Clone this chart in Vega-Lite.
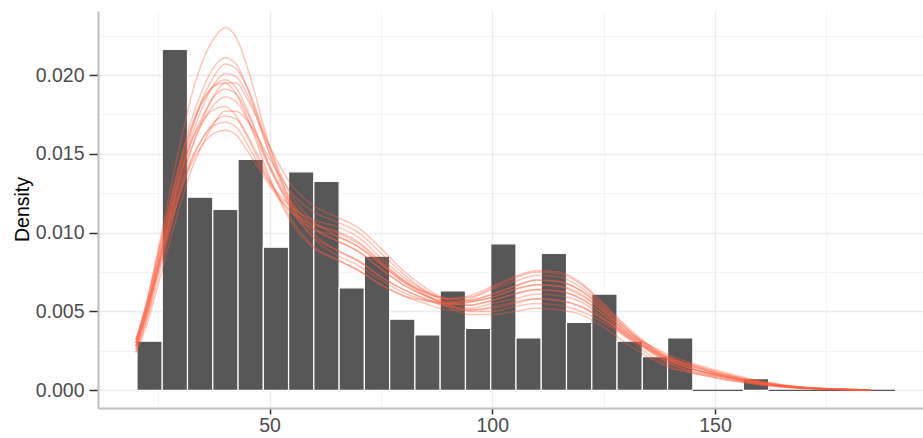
{
"$schema": "https://vega.github.io/schema/vega-lite/v6.json",
"width": 825, "height": 397,
"autosize": {"type": "none"},
"padding": {"left": 98, "top": 11, "right": 0, "bottom": 30},
"background": "white",
"config": {"view": {"stroke": null}, "font": "Liberation Sans"},
"datasets": {
"bars": [
{"x":20.25,"x2":25.92,"density":0.00311},{"x":25.92,"x2":31.59,"density":0.02163},{"x":31.59,"x2":37.27,"density":0.01225},{"x":37.27,"x2":42.94,"density":0.01147},{"x":42.94,"x2":48.61,"density":0.01465},{"x":48.61,"x2":54.28,"density":0.00908},{"x":54.28,"x2":59.95,"density":0.01386},{"x":59.95,"x2":65.63,"density":0.01325},{"x":65.63,"x2":71.30,"density":0.0065},{"x":71.30,"x2":76.97,"density":0.00851},{"x":76.97,"x2":82.64,"density":0.00451},{"x":82.64,"x2":88.31,"density":0.00351},{"x":88.31,"x2":93.99,"density":0.0063},{"x":93.99,"x2":99.66,"density":0.00392},{"x":99.66,"x2":105.33,"density":0.00929},{"x":105.33,"x2":111.0,"density":0.00332},{"x":111.0,"x2":116.67,"density":0.00868},{"x":116.67,"x2":122.35,"density":0.0043},{"x":122.35,"x2":128.02,"density":0.0061},{"x":128.02,"x2":133.69,"density":0.00311},{"x":133.69,"x2":139.36,"density":0.00214},{"x":139.36,"x2":145.03,"density":0.00332},{"x":145.03,"x2":150.71,"density":0},{"x":150.71,"x2":156.38,"density":0},{"x":156.38,"x2":162.05,"density":0.00074},{"x":162.05,"x2":167.72,"density":0},{"x":167.72,"x2":173.39,"density":0},{"x":173.39,"x2":179.07,"density":0},{"x":179.07,"x2":184.74,"density":0},{"x":184.74,"x2":190.41,"density":0}
],
"curves": [
{"d":1,"x":20,"density":0.0028},{"d":1,"x":22.5,"density":0.005},{"d":1,"x":25,"density":0.0078},{"d":1,"x":27.5,"density":0.0106},{"d":1,"x":30,"density":0.0132},{"d":1,"x":32.5,"density":0.0154},{"d":1,"x":35,"density":0.017},{"d":1,"x":37.5,"density":0.0181},{"d":1,"x":40,"density":0.0186},{"d":1,"x":42.5,"density":0.0183},{"d":1,"x":45,"density":0.0172},{"d":1,"x":50,"density":0.0141},{"d":1,"x":55,"density":0.0116},{"d":1,"x":60,"density":0.0102},{"d":1,"x":65,"density":0.0095},{"d":1,"x":70,"density":0.0088},{"d":1,"x":75,"density":0.0077},{"d":1,"x":80,"density":0.0067},{"d":1,"x":85,"density":0.006},{"d":1,"x":90,"density":0.0055},{"d":1,"x":95,"density":0.0054},{"d":1,"x":100,"density":0.0057},{"d":1,"x":105,"density":0.0061},{"d":1,"x":110,"density":0.0064},{"d":1,"x":115,"density":0.0063},{"d":1,"x":120,"density":0.0058},{"d":1,"x":125,"density":0.0048},{"d":1,"x":130,"density":0.0036},{"d":1,"x":135,"density":0.0026},{"d":1,"x":140,"density":0.0018},{"d":1,"x":145,"density":0.00135},{"d":1,"x":150,"density":0.001},{"d":1,"x":155,"density":0.0007},{"d":1,"x":160,"density":0.00045},{"d":1,"x":170,"density":0.00015},{"d":1,"x":185,"density":0.00002},
{"d":2,"x":20,"density":0.0032},{"d":2,"x":22.5,"density":0.0057},{"d":2,"x":25,"density":0.0089},{"d":2,"x":27.5,"density":0.0124},{"d":2,"x":30,"density":0.0157},{"d":2,"x":32.5,"density":0.0187},{"d":2,"x":35,"density":0.0209},{"d":2,"x":37.5,"density":0.0223},{"d":2,"x":40,"density":0.023},{"d":2,"x":42.5,"density":0.0224},{"d":2,"x":45,"density":0.0205},{"d":2,"x":50,"density":0.0155},{"d":2,"x":55,"density":0.0118},{"d":2,"x":60,"density":0.0099},{"d":2,"x":65,"density":0.0089},{"d":2,"x":70,"density":0.0082},{"d":2,"x":75,"density":0.0072},{"d":2,"x":80,"density":0.0064},{"d":2,"x":85,"density":0.0058},{"d":2,"x":90,"density":0.0055},{"d":2,"x":95,"density":0.0056},{"d":2,"x":100,"density":0.0059},{"d":2,"x":105,"density":0.0064},{"d":2,"x":110,"density":0.0067},{"d":2,"x":115,"density":0.0066},{"d":2,"x":120,"density":0.0061},{"d":2,"x":125,"density":0.005},{"d":2,"x":130,"density":0.0037},{"d":2,"x":135,"density":0.0027},{"d":2,"x":140,"density":0.0018},{"d":2,"x":145,"density":0.00135},{"d":2,"x":150,"density":0.001},{"d":2,"x":155,"density":0.0007},{"d":2,"x":160,"density":0.00045},{"d":2,"x":170,"density":0.00015},{"d":2,"x":185,"density":0.00002},
{"d":3,"x":20,"density":0.003},{"d":3,"x":22.5,"density":0.0052},{"d":3,"x":25,"density":0.008},{"d":3,"x":27.5,"density":0.0109},{"d":3,"x":30,"density":0.0139},{"d":3,"x":32.5,"density":0.0165},{"d":3,"x":35,"density":0.0185},{"d":3,"x":37.5,"density":0.0199},{"d":3,"x":40,"density":0.0207},{"d":3,"x":42.5,"density":0.0204},{"d":3,"x":45,"density":0.0192},{"d":3,"x":50,"density":0.0154},{"d":3,"x":55,"density":0.0123},{"d":3,"x":60,"density":0.0107},{"d":3,"x":65,"density":0.0098},{"d":3,"x":70,"density":0.0091},{"d":3,"x":75,"density":0.008},{"d":3,"x":80,"density":0.0069},{"d":3,"x":85,"density":0.006},{"d":3,"x":90,"density":0.0054},{"d":3,"x":95,"density":0.0051},{"d":3,"x":100,"density":0.0053},{"d":3,"x":105,"density":0.0056},{"d":3,"x":110,"density":0.0058},{"d":3,"x":115,"density":0.0057},{"d":3,"x":120,"density":0.0053},{"d":3,"x":125,"density":0.0045},{"d":3,"x":130,"density":0.0035},{"d":3,"x":135,"density":0.0026},{"d":3,"x":140,"density":0.0019},{"d":3,"x":145,"density":0.0015},{"d":3,"x":150,"density":0.0011},{"d":3,"x":155,"density":0.0008},{"d":3,"x":160,"density":0.0005},{"d":3,"x":170,"density":0.00017},{"d":3,"x":185,"density":0.00002},
{"d":4,"x":20,"density":0.0026},{"d":4,"x":22.5,"density":0.0049},{"d":4,"x":25,"density":0.0077},{"d":4,"x":27.5,"density":0.0105},{"d":4,"x":30,"density":0.0128},{"d":4,"x":32.5,"density":0.0147},{"d":4,"x":35,"density":0.016},{"d":4,"x":37.5,"density":0.0168},{"d":4,"x":40,"density":0.017},{"d":4,"x":42.5,"density":0.0167},{"d":4,"x":45,"density":0.0156},{"d":4,"x":50,"density":0.0132},{"d":4,"x":55,"density":0.0116},{"d":4,"x":60,"density":0.0108},{"d":4,"x":65,"density":0.0104},{"d":4,"x":70,"density":0.0097},{"d":4,"x":75,"density":0.0084},{"d":4,"x":80,"density":0.0072},{"d":4,"x":85,"density":0.0063},{"d":4,"x":90,"density":0.0058},{"d":4,"x":95,"density":0.0057},{"d":4,"x":100,"density":0.0061},{"d":4,"x":105,"density":0.0066},{"d":4,"x":110,"density":0.007},{"d":4,"x":115,"density":0.0069},{"d":4,"x":120,"density":0.0063},{"d":4,"x":125,"density":0.0051},{"d":4,"x":130,"density":0.0037},{"d":4,"x":135,"density":0.0026},{"d":4,"x":140,"density":0.0017},{"d":4,"x":145,"density":0.0012},{"d":4,"x":150,"density":0.0009},{"d":4,"x":155,"density":0.00063},{"d":4,"x":160,"density":0.0004},{"d":4,"x":170,"density":0.00014},{"d":4,"x":185,"density":0.00002},
{"d":5,"x":20,"density":0.003},{"d":5,"x":22.5,"density":0.0056},{"d":5,"x":25,"density":0.0087},{"d":5,"x":27.5,"density":0.0118},{"d":5,"x":30,"density":0.0146},{"d":5,"x":32.5,"density":0.0168},{"d":5,"x":35,"density":0.0184},{"d":5,"x":37.5,"density":0.0193},{"d":5,"x":40,"density":0.0195},{"d":5,"x":42.5,"density":0.0188},{"d":5,"x":45,"density":0.0173},{"d":5,"x":50,"density":0.0135},{"d":5,"x":55,"density":0.0106},{"d":5,"x":60,"density":0.009},{"d":5,"x":65,"density":0.0083},{"d":5,"x":70,"density":0.0076},{"d":5,"x":75,"density":0.0067},{"d":5,"x":80,"density":0.006},{"d":5,"x":85,"density":0.0057},{"d":5,"x":90,"density":0.0055},{"d":5,"x":95,"density":0.0058},{"d":5,"x":100,"density":0.0064},{"d":5,"x":105,"density":0.0069},{"d":5,"x":110,"density":0.0073},{"d":5,"x":115,"density":0.0072},{"d":5,"x":120,"density":0.0065},{"d":5,"x":125,"density":0.0053},{"d":5,"x":130,"density":0.0039},{"d":5,"x":135,"density":0.0027},{"d":5,"x":140,"density":0.0019},{"d":5,"x":145,"density":0.00135},{"d":5,"x":150,"density":0.001},{"d":5,"x":155,"density":0.0007},{"d":5,"x":160,"density":0.00045},{"d":5,"x":170,"density":0.00015},{"d":5,"x":185,"density":0.00002},
{"d":6,"x":20,"density":0.0024},{"d":6,"x":22.5,"density":0.0042},{"d":6,"x":25,"density":0.0067},{"d":6,"x":27.5,"density":0.0093},{"d":6,"x":30,"density":0.0118},{"d":6,"x":32.5,"density":0.014},{"d":6,"x":35,"density":0.0156},{"d":6,"x":37.5,"density":0.0169},{"d":6,"x":40,"density":0.0177},{"d":6,"x":42.5,"density":0.0177},{"d":6,"x":45,"density":0.0171},{"d":6,"x":50,"density":0.0147},{"d":6,"x":55,"density":0.0125},{"d":6,"x":60,"density":0.0113},{"d":6,"x":65,"density":0.0107},{"d":6,"x":70,"density":0.01},{"d":6,"x":75,"density":0.0087},{"d":6,"x":80,"density":0.0074},{"d":6,"x":85,"density":0.0063},{"d":6,"x":90,"density":0.0055},{"d":6,"x":95,"density":0.005},{"d":6,"x":100,"density":0.005},{"d":6,"x":105,"density":0.0053},{"d":6,"x":110,"density":0.0055},{"d":6,"x":115,"density":0.0054},{"d":6,"x":120,"density":0.005},{"d":6,"x":125,"density":0.0043},{"d":6,"x":130,"density":0.0034},{"d":6,"x":135,"density":0.0027},{"d":6,"x":140,"density":0.002},{"d":6,"x":145,"density":0.0016},{"d":6,"x":150,"density":0.0012},{"d":6,"x":155,"density":0.00085},{"d":6,"x":160,"density":0.00055},{"d":6,"x":170,"density":0.00018},{"d":6,"x":185,"density":0.00002},
{"d":7,"x":20,"density":0.0028},{"d":7,"x":22.5,"density":0.005},{"d":7,"x":25,"density":0.0079},{"d":7,"x":27.5,"density":0.0108},{"d":7,"x":30,"density":0.0135},{"d":7,"x":32.5,"density":0.0158},{"d":7,"x":35,"density":0.0174},{"d":7,"x":37.5,"density":0.0186},{"d":7,"x":40,"density":0.0191},{"d":7,"x":42.5,"density":0.0188},{"d":7,"x":45,"density":0.0176},{"d":7,"x":50,"density":0.0142},{"d":7,"x":55,"density":0.0114},{"d":7,"x":60,"density":0.0097},{"d":7,"x":65,"density":0.0089},{"d":7,"x":70,"density":0.0082},{"d":7,"x":75,"density":0.0072},{"d":7,"x":80,"density":0.0064},{"d":7,"x":85,"density":0.0058},{"d":7,"x":90,"density":0.0053},{"d":7,"x":95,"density":0.0052},{"d":7,"x":100,"density":0.0055},{"d":7,"x":105,"density":0.0058},{"d":7,"x":110,"density":0.0061},{"d":7,"x":115,"density":0.006},{"d":7,"x":120,"density":0.0056},{"d":7,"x":125,"density":0.0046},{"d":7,"x":130,"density":0.0034},{"d":7,"x":135,"density":0.0023},{"d":7,"x":140,"density":0.0015},{"d":7,"x":145,"density":0.0011},{"d":7,"x":150,"density":0.0008},{"d":7,"x":155,"density":0.00055},{"d":7,"x":160,"density":0.00035},{"d":7,"x":170,"density":0.00012},{"d":7,"x":185,"density":0.00002},
{"d":8,"x":20,"density":0.0024},{"d":8,"x":22.5,"density":0.0046},{"d":8,"x":25,"density":0.0075},{"d":8,"x":27.5,"density":0.0102},{"d":8,"x":30,"density":0.0125},{"d":8,"x":32.5,"density":0.0144},{"d":8,"x":35,"density":0.0156},{"d":8,"x":37.5,"density":0.0163},{"d":8,"x":40,"density":0.0165},{"d":8,"x":42.5,"density":0.0162},{"d":8,"x":45,"density":0.0152},{"d":8,"x":50,"density":0.013},{"d":8,"x":55,"density":0.0112},{"d":8,"x":60,"density":0.0102},{"d":8,"x":65,"density":0.0098},{"d":8,"x":70,"density":0.0091},{"d":8,"x":75,"density":0.008},{"d":8,"x":80,"density":0.0069},{"d":8,"x":85,"density":0.0062},{"d":8,"x":90,"density":0.0058},{"d":8,"x":95,"density":0.006},{"d":8,"x":100,"density":0.0066},{"d":8,"x":105,"density":0.0072},{"d":8,"x":110,"density":0.0076},{"d":8,"x":115,"density":0.0075},{"d":8,"x":120,"density":0.0068},{"d":8,"x":125,"density":0.0055},{"d":8,"x":130,"density":0.0041},{"d":8,"x":135,"density":0.0029},{"d":8,"x":140,"density":0.002},{"d":8,"x":145,"density":0.0015},{"d":8,"x":150,"density":0.0011},{"d":8,"x":155,"density":0.00078},{"d":8,"x":160,"density":0.0005},{"d":8,"x":170,"density":0.00017},{"d":8,"x":185,"density":0.00002},
{"d":9,"x":20,"density":0.0032},{"d":9,"x":22.5,"density":0.0053},{"d":9,"x":25,"density":0.008},{"d":9,"x":27.5,"density":0.0108},{"d":9,"x":30,"density":0.0136},{"d":9,"x":32.5,"density":0.0161},{"d":9,"x":35,"density":0.018},{"d":9,"x":37.5,"density":0.0194},{"d":9,"x":40,"density":0.0201},{"d":9,"x":42.5,"density":0.0199},{"d":9,"x":45,"density":0.0188},{"d":9,"x":50,"density":0.015},{"d":9,"x":55,"density":0.0116},{"d":9,"x":60,"density":0.0096},{"d":9,"x":65,"density":0.0086},{"d":9,"x":70,"density":0.0079},{"d":9,"x":75,"density":0.007},{"d":9,"x":80,"density":0.0062},{"d":9,"x":85,"density":0.0057},{"d":9,"x":90,"density":0.0054},{"d":9,"x":95,"density":0.0056},{"d":9,"x":100,"density":0.0059},{"d":9,"x":105,"density":0.0064},{"d":9,"x":110,"density":0.0067},{"d":9,"x":115,"density":0.0066},{"d":9,"x":120,"density":0.006},{"d":9,"x":125,"density":0.005},{"d":9,"x":130,"density":0.0038},{"d":9,"x":135,"density":0.0029},{"d":9,"x":140,"density":0.0021},{"d":9,"x":145,"density":0.0016},{"d":9,"x":150,"density":0.0012},{"d":9,"x":155,"density":0.00085},{"d":9,"x":160,"density":0.00055},{"d":9,"x":170,"density":0.00018},{"d":9,"x":185,"density":0.00002},
{"d":10,"x":20,"density":0.0028},{"d":10,"x":22.5,"density":0.0053},{"d":10,"x":25,"density":0.0083},{"d":10,"x":27.5,"density":0.0112},{"d":10,"x":30,"density":0.0138},{"d":10,"x":32.5,"density":0.0158},{"d":10,"x":35,"density":0.0171},{"d":10,"x":37.5,"density":0.0178},{"d":10,"x":40,"density":0.018},{"d":10,"x":42.5,"density":0.0174},{"d":10,"x":45,"density":0.0161},{"d":10,"x":50,"density":0.0132},{"d":10,"x":55,"density":0.0113},{"d":10,"x":60,"density":0.0105},{"d":10,"x":65,"density":0.0101},{"d":10,"x":70,"density":0.0094},{"d":10,"x":75,"density":0.0082},{"d":10,"x":80,"density":0.007},{"d":10,"x":85,"density":0.0061},{"d":10,"x":90,"density":0.0053},{"d":10,"x":95,"density":0.0048},{"d":10,"x":100,"density":0.0048},{"d":10,"x":105,"density":0.005},{"d":10,"x":110,"density":0.0052},{"d":10,"x":115,"density":0.0051},{"d":10,"x":120,"density":0.0048},{"d":10,"x":125,"density":0.004},{"d":10,"x":130,"density":0.003},{"d":10,"x":135,"density":0.0021},{"d":10,"x":140,"density":0.0014},{"d":10,"x":145,"density":0.0011},{"d":10,"x":150,"density":0.0008},{"d":10,"x":155,"density":0.00055},{"d":10,"x":160,"density":0.00035},{"d":10,"x":170,"density":0.00012},{"d":10,"x":185,"density":0.00002},
{"d":11,"x":20,"density":0.003},{"d":11,"x":22.5,"density":0.0053},{"d":11,"x":25,"density":0.0083},{"d":11,"x":27.5,"density":0.0114},{"d":11,"x":30,"density":0.0145},{"d":11,"x":32.5,"density":0.0172},{"d":11,"x":35,"density":0.0191},{"d":11,"x":37.5,"density":0.0205},{"d":11,"x":40,"density":0.0211},{"d":11,"x":42.5,"density":0.0207},{"d":11,"x":45,"density":0.0192},{"d":11,"x":50,"density":0.0151},{"d":11,"x":55,"density":0.012},{"d":11,"x":60,"density":0.0103},{"d":11,"x":65,"density":0.0095},{"d":11,"x":70,"density":0.0088},{"d":11,"x":75,"density":0.0077},{"d":11,"x":80,"density":0.0067},{"d":11,"x":85,"density":0.006},{"d":11,"x":90,"density":0.0056},{"d":11,"x":95,"density":0.0057},{"d":11,"x":100,"density":0.0061},{"d":11,"x":105,"density":0.0066},{"d":11,"x":110,"density":0.007},{"d":11,"x":115,"density":0.0069},{"d":11,"x":120,"density":0.0063},{"d":11,"x":125,"density":0.0052},{"d":11,"x":130,"density":0.0039},{"d":11,"x":135,"density":0.0028},{"d":11,"x":140,"density":0.002},{"d":11,"x":145,"density":0.0015},{"d":11,"x":150,"density":0.0011},{"d":11,"x":155,"density":0.00078},{"d":11,"x":160,"density":0.0005},{"d":11,"x":170,"density":0.00017},{"d":11,"x":185,"density":0.00002},
{"d":12,"x":20,"density":0.0026},{"d":12,"x":22.5,"density":0.0045},{"d":12,"x":25,"density":0.0072},{"d":12,"x":27.5,"density":0.0099},{"d":12,"x":30,"density":0.0128},{"d":12,"x":32.5,"density":0.0153},{"d":12,"x":35,"density":0.0172},{"d":12,"x":37.5,"density":0.0187},{"d":12,"x":40,"density":0.0195},{"d":12,"x":42.5,"density":0.0195},{"d":12,"x":45,"density":0.0185},{"d":12,"x":50,"density":0.0155},{"d":12,"x":55,"density":0.013},{"d":12,"x":60,"density":0.0117},{"d":12,"x":65,"density":0.011},{"d":12,"x":70,"density":0.0103},{"d":12,"x":75,"density":0.009},{"d":12,"x":80,"density":0.0076},{"d":12,"x":85,"density":0.0065},{"d":12,"x":90,"density":0.0057},{"d":12,"x":95,"density":0.0054},{"d":12,"x":100,"density":0.0057},{"d":12,"x":105,"density":0.0061},{"d":12,"x":110,"density":0.0064},{"d":12,"x":115,"density":0.0063},{"d":12,"x":120,"density":0.0058},{"d":12,"x":125,"density":0.0048},{"d":12,"x":130,"density":0.0035},{"d":12,"x":135,"density":0.0025},{"d":12,"x":140,"density":0.00165},{"d":12,"x":145,"density":0.0012},{"d":12,"x":150,"density":0.0009},{"d":12,"x":155,"density":0.00063},{"d":12,"x":160,"density":0.0004},{"d":12,"x":170,"density":0.00014},{"d":12,"x":185,"density":0.00002},
{"d":13,"x":20,"density":0.0028},{"d":13,"x":22.5,"density":0.0049},{"d":13,"x":25,"density":0.0076},{"d":13,"x":27.5,"density":0.0102},{"d":13,"x":30,"density":0.0126},{"d":13,"x":32.5,"density":0.0146},{"d":13,"x":35,"density":0.016},{"d":13,"x":37.5,"density":0.017},{"d":13,"x":40,"density":0.0174},{"d":13,"x":42.5,"density":0.0172},{"d":13,"x":45,"density":0.0162},{"d":13,"x":50,"density":0.0134},{"d":13,"x":55,"density":0.0108},{"d":13,"x":60,"density":0.0091},{"d":13,"x":65,"density":0.0083},{"d":13,"x":70,"density":0.0076},{"d":13,"x":75,"density":0.0067},{"d":13,"x":80,"density":0.006},{"d":13,"x":85,"density":0.0055},{"d":13,"x":90,"density":0.0051},{"d":13,"x":95,"density":0.0051},{"d":13,"x":100,"density":0.0052},{"d":13,"x":105,"density":0.0055},{"d":13,"x":110,"density":0.0058},{"d":13,"x":115,"density":0.0057},{"d":13,"x":120,"density":0.0053},{"d":13,"x":125,"density":0.0045},{"d":13,"x":130,"density":0.0036},{"d":13,"x":135,"density":0.0029},{"d":13,"x":140,"density":0.0022},{"d":13,"x":145,"density":0.0017},{"d":13,"x":150,"density":0.0013},{"d":13,"x":155,"density":0.00093},{"d":13,"x":160,"density":0.0006},{"d":13,"x":170,"density":0.0002},{"d":13,"x":185,"density":0.00002},
{"d":14,"x":20,"density":0.0032},{"d":14,"x":22.5,"density":0.0056},{"d":14,"x":25,"density":0.0086},{"d":14,"x":27.5,"density":0.0116},{"d":14,"x":30,"density":0.0143},{"d":14,"x":32.5,"density":0.0166},{"d":14,"x":35,"density":0.0183},{"d":14,"x":37.5,"density":0.0193},{"d":14,"x":40,"density":0.0197},{"d":14,"x":42.5,"density":0.0192},{"d":14,"x":45,"density":0.0178},{"d":14,"x":50,"density":0.0143},{"d":14,"x":55,"density":0.0118},{"d":14,"x":60,"density":0.0106},{"d":14,"x":65,"density":0.01},{"d":14,"x":70,"density":0.0093},{"d":14,"x":75,"density":0.0081},{"d":14,"x":80,"density":0.007},{"d":14,"x":85,"density":0.0062},{"d":14,"x":90,"density":0.0058},{"d":14,"x":95,"density":0.0059},{"d":14,"x":100,"density":0.0065},{"d":14,"x":105,"density":0.0071},{"d":14,"x":110,"density":0.0075},{"d":14,"x":115,"density":0.0074},{"d":14,"x":120,"density":0.0067},{"d":14,"x":125,"density":0.0054},{"d":14,"x":130,"density":0.004},{"d":14,"x":135,"density":0.0028},{"d":14,"x":140,"density":0.0019},{"d":14,"x":145,"density":0.00135},{"d":14,"x":150,"density":0.001},{"d":14,"x":155,"density":0.0007},{"d":14,"x":160,"density":0.00045},{"d":14,"x":170,"density":0.00015},{"d":14,"x":185,"density":0.00002}
]
},
"layer": [
{
"data": {"name": "bars"},
"mark": {"type": "rect", "strokeWidth": 1.2},
"encoding": {
"x": {"field": "x", "type": "quantitative", "scale": {"domain": [11.5, 196.7], "nice": false, "zero": false},
"axis": {"values": [25, 50, 75, 100, 125, 150, 175], "title": null,
"labelExpr": "datum.value % 50 == 0 ? datum.label : ''",
"labelFont": "Liberation Sans", "labelFontSize": 19.5, "labelColor": "#4D4D4D", "labelPadding": 2, "labelOverlap": false, "labelFlush": false,
"tickSize": 6, "tickWidth": 1.5,
"tickColor": {"condition": {"test": "datum.value % 50 != 0", "value": "transparent"}, "value": "#333333"},
"domainColor": "#BEBEBE", "domainWidth": 2,
"grid": true,
"gridColor": {"condition": {"test": "datum.value % 50 != 0", "value": "#F3F3F3"}, "value": "#EBEBEB"},
"gridWidth": {"condition": {"test": "datum.value % 50 != 0", "value": 0.9}, "value": 1.4}}},
"x2": {"field": "x2"},
"y": {"field": "density", "type": "quantitative", "scale": {"domain": [-0.001124, 0.02406], "nice": false, "zero": false},
"axis": {"values": [0, 0.0025, 0.005, 0.0075, 0.01, 0.0125, 0.015, 0.0175, 0.02, 0.0225], "title": "Density", "format": ".3f",
"labelExpr": "round(datum.value*400) % 2 == 0 ? datum.label : ''",
"labelFont": "Liberation Sans", "labelFontSize": 19.5, "labelColor": "#4D4D4D", "labelPadding": 5, "labelOverlap": false, "labelFlush": false,
"tickSize": 9, "tickWidth": 1.5,
"tickColor": {"condition": {"test": "round(datum.value*400) % 2 == 1", "value": "transparent"}, "value": "#333333"},
"domainColor": "#BEBEBE", "domainWidth": 2,
"grid": true,
"gridColor": {"condition": {"test": "round(datum.value*400) % 2 == 1", "value": "#F3F3F3"}, "value": "#EBEBEB"},
"gridWidth": {"condition": {"test": "round(datum.value*400) % 2 == 1", "value": 0.9}, "value": 1.4},
"titleFont": "Liberation Sans", "titleFontSize": 19.5, "titleFontWeight": "normal", "titleColor": "#000000",
"titleAngle": -90, "titleX": -70, "titleY": 198, "titleAlign": "center", "titleBaseline": "alphabetic"}},
"y2": {"datum": 0},
"fill": {"value": "#575757"},
"stroke": {"condition": {"test": "datum.density == 0", "value": "#575757"}, "value": "#FFFFFF"}
}
},
{
"data": {"name": "curves"},
"mark": {"type": "line", "interpolate": "monotone", "strokeWidth": 1.5, "opacity": 0.36, "color": "#FF5F40"},
"encoding": {
"x": {"field": "x", "type": "quantitative"},
"y": {"field": "density", "type": "quantitative"},
"detail": {"field": "d", "type": "nominal"}
}
}
]
}
